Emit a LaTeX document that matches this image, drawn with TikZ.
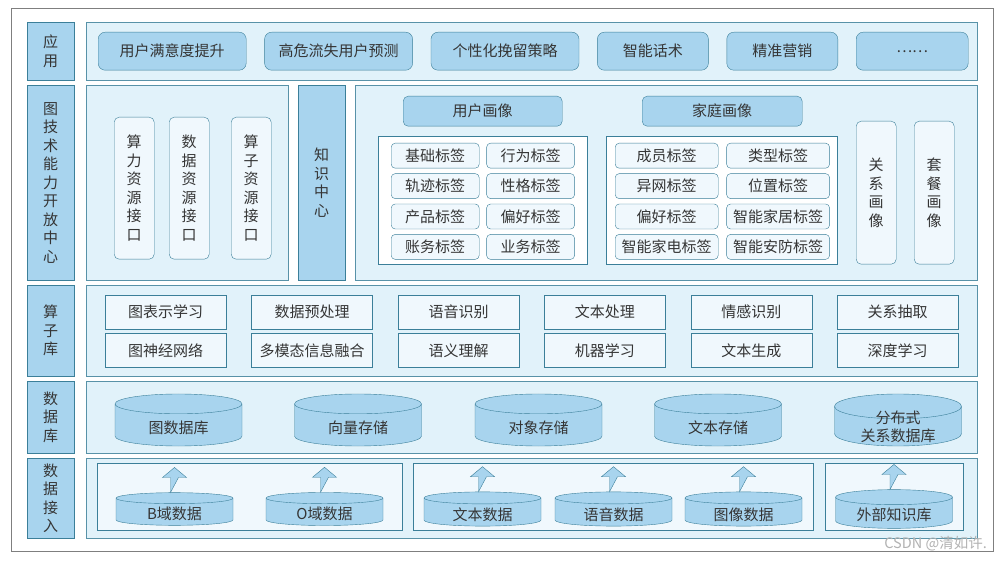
\documentclass[tikz,border=0pt]{standalone}
\usepackage{fontspec}
\setmainfont{Noto Sans CJK SC}
\usepackage{tikz}
\usetikzlibrary{
	shapes.geometric,
	positioning
}
\definecolor{layerblue}{HTML}{A8D4EE}
\definecolor{panelblue}{HTML}{E1F2FA}
\definecolor{tagwhite}{HTML}{F0F8FD}
\definecolor{edgeteal}{HTML}{3B7F99}
\definecolor{inkgray}{HTML}{353535}
\definecolor{framegray}{HTML}{7F7F7F}

% block arrow standing on a source cylinder
\newcommand{\feedup}[1]{%
	\draw[feed, shift={(#1.north)}] (-4,0) -- (-4,-15) -- (-12,-15) -- (0,-25) -- (12,-15) -- (4,-15) -- cycle;}

\begin{document}
\begin{tikzpicture}[
				x=1pt, y=-1pt,
				every node/.style={font=\fontsize{15}{18.5}\selectfont, text=inkgray, inner sep=0pt},
				layer/.style={
					rectangle, draw=edgeteal, fill=layerblue,
					minimum width=47pt, align=center, anchor=north west
				},
				panel/.style={
					rectangle, draw=edgeteal!85, fill=panelblue, anchor=north west
				},
				appbox/.style={
					rectangle, draw=edgeteal, rounded corners=7pt, fill=layerblue,
					minimum height=38pt, anchor=north west
				},
				portbox/.style={
					rectangle, draw=edgeteal, rounded corners=5pt, fill=tagwhite,
					minimum width=40pt, align=center, anchor=north west
				},
				headbox/.style={
					appbox, rounded corners=5pt, minimum height=30pt
				},
				groupbox/.style={
					rectangle, draw=edgeteal, fill=white,
					minimum height=128pt, anchor=north west
				},
				tagbox/.style={
					rectangle, draw=edgeteal, rounded corners=4pt, fill=tagwhite,
					minimum height=25pt, anchor=north west
				},
				opbox/.style={
					rectangle, draw=edgeteal, fill=tagwhite,
					minimum width=121pt, minimum height=34pt, anchor=north west
				},
				store/.style={
					cylinder, shape border rotate=90, draw=edgeteal, fill=layerblue,
					aspect=0.33, minimum width=127pt, minimum height=52pt,
					text height=16pt, text depth=0pt, anchor=shape center
				},
				srcgroup/.style={
					rectangle, draw=edgeteal, fill=tagwhite,
					minimum height=67pt, anchor=north west
				},
				source/.style={
					store, minimum width=117pt, minimum height=32pt, aspect=0.2
				},
				feed/.style={draw=edgeteal, fill=layerblue},
				]
				
				\fill[white] (0,0) rectangle (1002,561);
				\useasboundingbox (0,0) rectangle (1002,561);
				\draw[framegray, line width=1pt] (11,9) rectangle (993,551);
				
				%layer titles
				\node[layer, minimum height=58pt] (tApp) at (27,22) {应\\用};
				\node[layer, minimum height=195pt] (tCap) at (27,85) {图\\技\\术\\能\\力\\开\\放\\中\\心};
				\node[layer, minimum height=91pt] (tOp) at (27,285) {算\\子\\库};
				\node[layer, minimum height=72pt] (tDb) at (27,381) {数\\据\\库};
				\node[layer, minimum height=80pt] (tIn) at (27,458) {数\\据\\接\\入};
				
				%panels
				\node[panel, minimum width=891pt, minimum height=58pt] (pApp) at (86,22) {};
				\node[panel, minimum width=202pt, minimum height=195pt] (pApi) at (86,85) {};
				\node[layer, minimum height=195pt] (know) at (298,85) {知\\识\\中\\心};
				\node[panel, minimum width=622pt, minimum height=195pt] (pPortrait) at (355,85) {};
				\node[panel, minimum width=891pt, minimum height=91pt] (pOp) at (86,285) {};
				\node[panel, minimum width=891pt, minimum height=72pt] (pDb) at (86,381) {};
				\node[panel, minimum width=891pt, minimum height=80pt] (pIn) at (86,458) {};
				
				%1. applications
				\node[appbox, minimum width=148pt] (app1) at (98,32) {用户满意度提升};
				\node[appbox, minimum width=148pt, right=18pt of app1] (app2) {高危流失用户预测};
				\node[appbox, minimum width=148pt, right=18pt of app2] (app3) {个性化挽留策略};
				\node[appbox, minimum width=111pt, right=18pt of app3] (app4) {智能话术};
				\node[appbox, minimum width=111pt, right=18pt of app4] (app5) {精准营销};
				\node[appbox, minimum width=112pt, right=18pt of app5] (app6) {……};
				
				%2. open interfaces
				\node[portbox, minimum height=142pt] (apiCompute) at (114,117) {算\\力\\资\\源\\接\\口};
				\node[portbox, minimum height=142pt] (apiData) at (169,117) {数\\据\\资\\源\\接\\口};
				\node[portbox, minimum height=142pt] (apiOp) at (231,117) {算\\子\\资\\源\\接\\口};
				
				%user portrait
				\node[headbox, minimum width=159pt] (userHead) at (403,96) {用户画像};
				\node[groupbox, minimum width=209pt] (userGroup) at (378,136) {};
				\node[tagbox, minimum width=88pt] (uBase) at (391,143) {基础标签};
				\node[tagbox, minimum width=88pt, right=7pt of uBase] (uAct) {行为标签};
				\node[tagbox, minimum width=88pt, below=5pt of uBase] (uTrack) {轨迹标签};
				\node[tagbox, minimum width=88pt, right=7pt of uTrack] (uChar) {性格标签};
				\node[tagbox, minimum width=88pt, below=5pt of uTrack] (uProd) {产品标签};
				\node[tagbox, minimum width=88pt, right=7pt of uProd] (uPref) {偏好标签};
				\node[tagbox, minimum width=88pt, below=5pt of uProd] (uBill) {账务标签};
				\node[tagbox, minimum width=88pt, right=7pt of uBill] (uServ) {业务标签};
				
				%home portrait
				\node[headbox, minimum width=160pt] (homeHead) at (642,96) {家庭画像};
				\node[groupbox, minimum width=231pt] (homeGroup) at (606,136) {};
				\node[tagbox, minimum width=103pt] (hMember) at (615,143) {成员标签};
				\node[tagbox, minimum width=103pt, right=8pt of hMember] (hType) {类型标签};
				\node[tagbox, minimum width=103pt, below=5pt of hMember] (hNet) {异网标签};
				\node[tagbox, minimum width=103pt, right=8pt of hNet] (hPlace) {位置标签};
				\node[tagbox, minimum width=103pt, below=5pt of hNet] (hPref) {偏好标签};
				\node[tagbox, minimum width=103pt, right=8pt of hPref] (hHouse) {智能家居标签};
				\node[tagbox, minimum width=103pt, below=5pt of hPref] (hAppl) {智能家电标签};
				\node[tagbox, minimum width=103pt, right=8pt of hAppl] (hGuard) {智能安防标签};
				
				\node[portbox, minimum height=143pt] (relPortrait) at (856,121) {关\\系\\画\\像};
				\node[portbox, minimum height=143pt] (planPortrait) at (914,121) {套\\餐\\画\\像};
				
				%3. operator library
				\node[opbox] (op1) at (105,295) {图表示学习};
				\node[opbox, right=25pt of op1] (op2) {数据预处理};
				\node[opbox, right=25pt of op2] (op3) {语音识别};
				\node[opbox, right=25pt of op3] (op4) {文本处理};
				\node[opbox, right=25pt of op4] (op5) {情感识别};
				\node[opbox, right=25pt of op5] (op6) {关系抽取};
				\node[opbox, below=4pt of op1] (op7) {图神经网络};
				\node[opbox, right=25pt of op7] (op8) {多模态信息融合};
				\node[opbox, right=25pt of op8] (op9) {语义理解};
				\node[opbox, right=25pt of op9] (op10) {机器学习};
				\node[opbox, right=25pt of op10] (op11) {文本生成};
				\node[opbox, right=25pt of op11] (op12) {深度学习};
				
				%4. databases
				\node[store] (dbGraph) at (178.5,420) {图数据库};
				\node[store] (dbVector) at (358,420) {向量存储};
				\node[store] (dbObject) at (538.5,420) {对象存储};
				\node[store] (dbText) at (718,420) {文本存储};
				\node[store, text height=0pt] (dbRel) at (898,420) {\raisebox{3pt}[0pt][0pt]{\begin{tabular}[t]{@{}c@{}}分布式\\关系数据库\end{tabular}}};
				
				%5. data input
				\node[srcgroup, minimum width=305pt] (inDomain) at (97,463) {};
				\node[srcgroup, minimum width=400pt] (inMedia) at (413,463) {};
				\node[srcgroup, minimum width=138pt] (inExtern) at (825,463) {};
				
				\node[source] (srcB) at (174.5,509) {B域数据};
				\node[source] (srcO) at (324.5,509) {O域数据};
				\node[source] (srcText) at (482.5,509) {文本数据};
				\node[source] (srcVoice) at (613.5,509) {语音数据};
				\node[source] (srcImage) at (743.5,509) {图像数据};
				\node[source] (srcKnow) at (894,509) {外部知识库};
				\feedup{srcB}
				\feedup{srcO}
				\feedup{srcText}
				\feedup{srcVoice}
				\feedup{srcImage}
				\feedup{srcKnow}
				
				\node[font=\fontsize{14.5}{14.5}\selectfont, text=gray!60, anchor=east] (mark) at (987,544) {CSDN @清如许.};
			\end{tikzpicture}
\end{document}
